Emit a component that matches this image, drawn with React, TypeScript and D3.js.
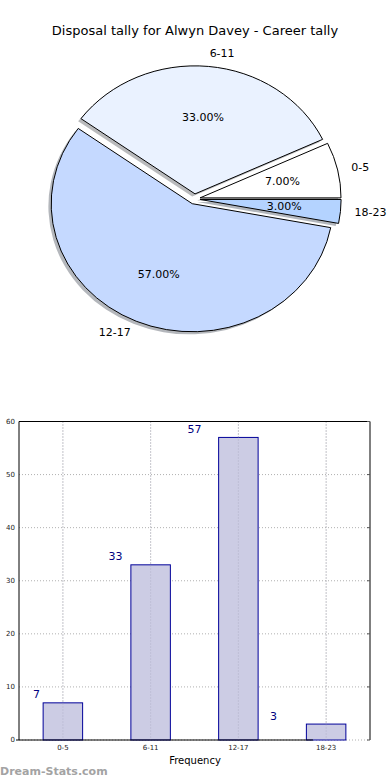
import React from 'react';
import * as d3 from 'd3';

// Disposal tally pie + frequency bars
const categories = ['0-5', '6-11', '12-17', '18-23'];
const tally = [7, 33, 57, 3];
const sliceColors = ['#ffffff', '#eaf2ff', '#c5d9ff', '#b4d3ff'];
const yTicks = [0, 10, 20, 30, 40, 50, 60];

const W = 390;
const H = 780;
const FONT = '"DejaVu Sans", Verdana, sans-serif';

const App = () => {
  // pie geometry (matplotlib style: counterclockwise from 3 o'clock, slightly exploded, shadowed)
  const cx = 194.5;
  const cy = 199;
  const rx = 141;
  const ry = 128;
  const explode = 0.04;

  const pie = d3.pie<number>().sort(null).value(d => d);
  const slices = pie(tally);
  const total = d3.sum(tally);
  const arc = d3.arc<any>().innerRadius(0).outerRadius(1);

  const wedges = slices.map((s, i) => {
    const mid = (s.startAngle + s.endAngle) / 2;
    const ox = cx + explode * rx * Math.cos(mid);
    const oy = cy - explode * ry * Math.sin(mid);
    const path = arc({ startAngle: Math.PI / 2 - s.endAngle, endAngle: Math.PI / 2 - s.startAngle }) as string;
    const lx = ox + 1.1 * rx * Math.cos(mid);
    const ly = oy - 1.1 * ry * Math.sin(mid);
    const px = ox + 0.6 * rx * Math.cos(mid);
    const py = oy - 0.6 * ry * Math.sin(mid);
    return { i, mid, ox, oy, path, lx, ly, px, py, pct: (100 * tally[i] / total).toFixed(2) + '%' };
  });

  // bar chart axes
  const left = 19;
  const right = 370;
  const top = 421.5;
  const bottom = 740;
  const x = d3.scaleLinear().domain([-0.5, categories.length - 0.5]).range([left, right]);
  const y = d3.scaleLinear().domain([0, 60]).range([bottom, top]);
  const barW = x(0.45) - x(0);

  return (
    <svg width={W} height={H} style={{ position: 'absolute', left: 0, top: 0, background: '#fff' }} fontFamily={FONT}>
      <rect width={W} height={H} fill="#fff" />
      <text x={195} y={30} textAnchor="middle" dominantBaseline="central" fontSize={13} fill="#000">
        Disposal tally for Alwyn Davey - Career tally
      </text>

      {/* shadows */}
      {wedges.map(w => (
        <path
          key={'s' + w.i}
          d={w.path}
          transform={`translate(${w.ox - 0.02 * rx},${w.oy + 0.02 * ry}) scale(${rx},${ry})`}
          fill={d3.rgb(sliceColors[w.i]).darker(3).formatHex()}
          fillOpacity={0.4}
          stroke="none"
        />
      ))}
      {/* wedges */}
      {wedges.map(w => (
        <path
          key={'w' + w.i}
          d={w.path}
          transform={`translate(${w.ox},${w.oy}) scale(${rx},${ry})`}
          fill={sliceColors[w.i]}
          stroke="#000"
          strokeWidth={1}
          vectorEffect="non-scaling-stroke"
        />
      ))}
      {wedges.map(w => (
        <text
          key={'l' + w.i}
          x={w.lx}
          y={w.ly}
          textAnchor={w.lx > w.ox ? 'start' : 'end'}
          dominantBaseline="central"
          fontSize={11}
        >
          {categories[w.i]}
        </text>
      ))}
      {wedges.map(w => (
        <text key={'p' + w.i} x={w.px} y={w.py} textAnchor="middle" dominantBaseline="central" fontSize={11}>
          {w.pct}
        </text>
      ))}

      {/* bar chart */}
      <g>
        {yTicks.map(t => (
          <line key={'gy' + t} x1={left} x2={right} y1={y(t)} y2={y(t)} stroke="#b0b0b0" strokeDasharray="1,2" />
        ))}
        {categories.map((c, i) => (
          <line key={'gx' + i} x1={x(i)} x2={x(i)} y1={top} y2={bottom} stroke="#b0b0b0" strokeDasharray="1,2" />
        ))}
        {tally.map((v, i) => (
          <rect
            key={'b' + i}
            x={x(i) - barW / 2}
            y={y(v)}
            width={barW}
            height={y(0) - y(v)}
            fill="#ccccE4"
            stroke="#000099"
            strokeWidth={1}
          />
        ))}
        {categories.map((c, i) => (
          <line key={'gx2' + i} x1={x(i)} x2={x(i)} y1={top} y2={bottom} stroke="#a0a0b8" strokeDasharray="1,2" strokeOpacity={0.6} />
        ))}
        {/* spines */}
        <line x1={left} x2={right} y1={top} y2={top} stroke="#000" />
        <line x1={left} x2={left} y1={top} y2={bottom} stroke="#000" />
        <line x1={right} x2={right} y1={top} y2={bottom} stroke="#000" />
        <line x1={left - 3} x2={x(2.85)} y1={bottom} y2={bottom} stroke="#000" />
        {yTicks.map(t => (
          <g key={'ty' + t}>
            <line x1={right} x2={right - 3} y1={y(t)} y2={y(t)} stroke="#555" />
            <text x={15} y={y(t)} textAnchor="end" dominantBaseline="central" fontSize={7} fill="#222">
              {t}
            </text>
          </g>
        ))}
        {categories.map((c, i) => (
          <text key={'tx' + i} x={x(i)} y={747.5} textAnchor="middle" dominantBaseline="central" fontSize={7} fill="#222">
            {c}
          </text>
        ))}
        {tally.map((v, i) => (
          <text
            key={'v' + i}
            x={x(i * 0.9 - 0.3)}
            y={y(v + 1.5)}
            textAnchor="middle"
            dominantBaseline="central"
            fontSize={11}
            fill="#000080"
          >
            {v}
          </text>
        ))}
        <text x={195} y={760} textAnchor="middle" dominantBaseline="central" fontSize={10}>
          Frequency
        </text>
      </g>
      <text x={0} y={775} fontSize={11} fontWeight="600" fill="#a3a3a3">
        Dream-Stats.com
      </text>
    </svg>
  );
};

export default App;
